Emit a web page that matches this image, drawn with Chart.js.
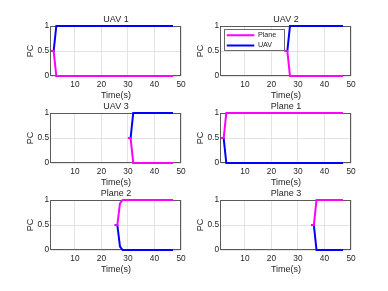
<!DOCTYPE html>
<html><head><meta charset="utf-8">
<script src="https://cdn.jsdelivr.net/npm/chart.js@4.4.0/dist/chart.umd.min.js"></script>
<style>
html,body{margin:0;padding:0;background:#fff;width:388px;height:291px;overflow:hidden}
#wrap{position:relative;width:388px;height:291px;background:#fff}
canvas{position:absolute}
</style></head><body><div id="wrap"></div>
<script>
// ---- data ----
const seconds = [1,2,3,4,5,6,7,8,9,10,11,12,13,14,15,16,17,18,19,20,21,22,23,24,25,26,27,28,29,30,31,32,33,34,35,36,37,38,39,40,41,42,43,44,45,46,47];
const seriesNames = ['Plane','UAV'];
const panelTitles = ['UAV 1','UAV 2','UAV 3','Plane 1','Plane 2','Plane 3'];
const startTimes = [1,25,30,1,25,35];
const xTicks = [10,20,30,40,50];
const yTicks = [0,0.5,1];
const xLabel = 'Time(s)';
const yLabel = 'PC';

const uav1Plane = [0.5,0.5,0,0,0,0,0,0,0,0, 0,0,0,0,0,0,0,0,0,0, 0,0,0,0,0,0,0,0,0,0, 0,0,0,0,0,0,0,0,0,0, 0,0,0,0,0,0,0];
const uav1Uav   = [0.5,0.5,1,1,1,1,1,1,1,1, 1,1,1,1,1,1,1,1,1,1, 1,1,1,1,1,1,1,1,1,1, 1,1,1,1,1,1,1,1,1,1, 1,1,1,1,1,1,1];
const uav2Plane = [0.5,0.5,0,0,0,0,0,0,0,0, 0,0,0,0,0,0,0,0,0,0, 0,0,0];
const uav2Uav   = [0.5,0.5,1,1,1,1,1,1,1,1, 1,1,1,1,1,1,1,1,1,1, 1,1,1];
const uav3Plane = [0.5,0.5,0,0,0,0,0,0,0,0, 0,0,0,0,0,0,0,0];
const uav3Uav   = [0.5,0.5,1,1,1,1,1,1,1,1, 1,1,1,1,1,1,1,1];
const plane1Plane = [0.5,0.5,1,1,1,1,1,1,1,1, 1,1,1,1,1,1,1,1,1,1, 1,1,1,1,1,1,1,1,1,1, 1,1,1,1,1,1,1,1,1,1, 1,1,1,1,1,1,1];
const plane1Uav   = [0.5,0.5,0,0,0,0,0,0,0,0, 0,0,0,0,0,0,0,0,0,0, 0,0,0,0,0,0,0,0,0,0, 0,0,0,0,0,0,0,0,0,0, 0,0,0,0,0,0,0];
const plane2Plane = [0.5,0.5,0.93,1,1,1,1,1,1,1, 1,1,1,1,1,1,1,1,1,1, 1,1,1];
const plane2Uav   = [0.5,0.5,0.07,0,0,0,0,0,0,0, 0,0,0,0,0,0,0,0,0,0, 0,0,0];
const plane3Plane = [0.5,0.5,1,1,1,1,1,1,1,1, 1,1,1];
const plane3Uav   = [0.5,0.5,0,0,0,0,0,0,0,0, 0,0,0];

const planeSeries = [uav1Plane, uav2Plane, uav3Plane, plane1Plane, plane2Plane, plane3Plane];
const uavSeries   = [uav1Uav, uav2Uav, uav3Uav, plane1Uav, plane2Uav, plane3Uav];

// ---- layout / style ----
const FONT = "'Liberation Sans', Arial, Helvetica, sans-serif";
const TXT = '#262626';
const plotLefts = [51, 221];
const plotTops = [26, 113, 200];
const YW = 51, TOPH = 26, XH = 26, PW = 130, PH = 50, PR = 13;
const CW = YW + PW + PR, CH = TOPH + PH + XH;

function toPoints(vals, start) {
  const i0 = seconds.indexOf(start);
  return vals.map((v, i) => ({x: seconds[i0 + i], y: v}));
}

const framePlugin = {
  id: 'frame',
  afterLayout(chart) {
    const lg = chart.legend;
    if (lg && lg.options.display) {
      const a = chart.chartArea;
      const h = lg.bottom - lg.top, w = lg.right - lg.left;
      lg.top = a.top + 2.6; lg.bottom = lg.top + h;
      lg.left = a.left + 2.8; lg.right = lg.left + w;
    }
  },
  beforeDatasetsDraw(chart) {
    const {ctx, chartArea: a} = chart;
    ctx.save();
    ctx.strokeStyle = '#5a5a5a';
    ctx.lineWidth = 1;
    ctx.strokeRect(a.left - 0.5, a.top + 0.5, a.right - a.left, a.bottom - a.top - 1);
    ctx.restore();
  }
};

const legendBoxPlugin = {
  id: 'legendBox',
  afterDatasetsDraw(chart) {
    const lg = chart.legend;
    if (!lg || !lg.options.display || !lg.legendHitBoxes || !lg.legendHitBoxes.length) return;
    const hb = lg.legendHitBoxes;
    const first = hb[0], last = hb[hb.length - 1];
    const left = Math.min(...hb.map(h => h.left)) - 2.4;
    const right = Math.max(...hb.map(h => h.left + h.width)) + 8.3;
    const top = first.top + first.height / 2 - 6.3;
    const bottom = last.top + last.height / 2 + 5;
    const ctx = chart.ctx;
    ctx.save();
    ctx.fillStyle = '#ffffff';
    ctx.fillRect(left, top, right - left, bottom - top);
    ctx.strokeStyle = '#6a6a6a';
    ctx.lineWidth = 1;
    ctx.strokeRect(Math.round(left) + 0.5, Math.round(top) + 0.5, Math.round(right - left), Math.round(bottom - top));
    ctx.restore();
    lg.draw();
  }
};

const wrap = document.getElementById('wrap');
panelTitles.forEach((title, k) => {
  const row = Math.floor(k / 2), col = k % 2;
  const cv = document.createElement('canvas');
  cv.width = CW; cv.height = CH;
  cv.style.width = CW + 'px'; cv.style.height = CH + 'px';
  cv.style.left = (plotLefts[col] - YW) + 'px';
  cv.style.top = (plotTops[row] - TOPH) + 'px';
  wrap.appendChild(cv);
  const showLegend = (k === 1);
  new Chart(cv, {
    type: 'line',
    data: {
      datasets: [
        {label: seriesNames[0], data: toPoints(planeSeries[k], startTimes[k]), borderColor: '#ff00ff', backgroundColor: '#ff00ff', borderWidth: 2, pointRadius: 0, tension: 0, fill: false, clip: 3},
        {label: seriesNames[1], data: toPoints(uavSeries[k], startTimes[k]), borderColor: '#0000ff', backgroundColor: '#0000ff', borderWidth: 2, pointRadius: 0, tension: 0, fill: false, clip: 3}
      ]
    },
    options: {
      responsive: false, animation: false, devicePixelRatio: 1,
      layout: {padding: {left: 0, right: PR, top: 0, bottom: 0}},
      plugins: {
        tooltip: {enabled: false},
        title: {display: true, fullSize: false, text: title, color: TXT, font: {family: FONT, size: 9, weight: 'normal', lineHeight: 1.2}, padding: {top: 14.6, bottom: 0.6}},
        legend: {
          display: showLegend, position: 'chartArea', align: 'start',
          labels: {usePointStyle: true, pointStyle: 'line', pointStyleWidth: 27.5, color: TXT, font: {family: FONT, size: 7.2}, padding: 3}
        }
      },
      scales: {
        x: {
          type: 'linear', min: 1, max: 50,
          afterBuildTicks: s => { s.ticks = xTicks.map(v => ({value: v})); },
          afterFit: s => { s.height = XH; },
          grid: {color: '#e3e3e3', drawTicks: false},
          border: {display: false},
          ticks: {color: TXT, font: {family: FONT, size: 8.3}, padding: 4, maxRotation: 0, callback: v => String(v)},
          title: {display: true, text: xLabel, color: TXT, font: {family: FONT, size: 9, lineHeight: 1.2}, padding: {top: 0, bottom: 1.3}}
        },
        y: {
          type: 'linear', min: 0, max: 1,
          afterBuildTicks: s => { s.ticks = yTicks.map(v => ({value: v})); },
          afterFit: s => { s.width = YW; },
          grid: {color: '#e3e3e3', drawTicks: false},
          border: {display: false},
          ticks: {color: TXT, font: {family: FONT, size: 8.3}, padding: 2, callback: v => String(v)},
          title: {display: true, text: yLabel, color: TXT, font: {family: FONT, size: 9, lineHeight: 1.2}, padding: {top: 25, bottom: 0}}
        }
      }
    },
    plugins: [framePlugin, legendBoxPlugin]
  });
});
</script></body></html>
